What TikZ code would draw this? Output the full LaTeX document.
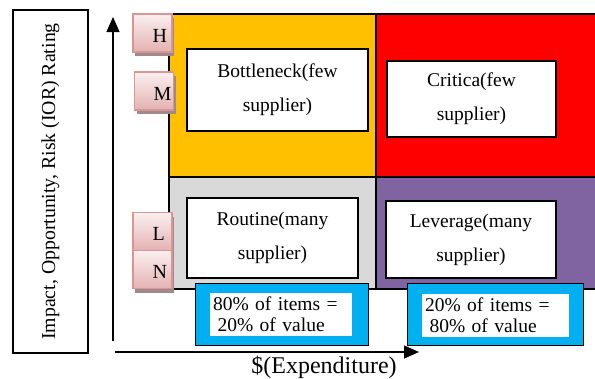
\documentclass[tikz,border=0pt]{standalone}
\usepackage{fontspec}
\setmainfont{Liberation Serif}
\usetikzlibrary{arrows.meta,shadows}

\definecolor{qyellow}{HTML}{FFC000}
\definecolor{qred}{HTML}{FF0000}
\definecolor{qgray}{HTML}{D9D9D9}
\definecolor{qpurple}{HTML}{8064A2}
\definecolor{qblue}{HTML}{00B0F0}
\definecolor{ratetop}{HTML}{FBEFEF}
\definecolor{ratebot}{HTML}{E3B2B1}
\definecolor{rateline}{HTML}{D99694}
\definecolor{rateshadow}{HTML}{9E8A8A}

\begin{document}
\begin{tikzpicture}[x=1pt, y=-1pt,
		quad/.style = {draw=black, line width=1.5pt, inner sep=0pt, outer sep=0pt},
		tbox/.style = {draw=black, line width=1.2pt, fill=white, align=center,
			font=\fontsize{19.5}{34}\selectfont},
		rating/.style = {draw=rateline, line width=1.5pt, top color=ratetop, bottom color=ratebot,
			minimum width=39pt, minimum height=38pt,
			drop shadow={shadow xshift=2pt, shadow yshift=-4pt, fill=rateshadow, opacity=1}},
		ratelet/.style = {anchor=base west, inner sep=0pt, font=\fontsize{20}{20}\selectfont},
		share/.style = {draw=black, line width=1pt, fill=qblue, minimum width=173pt, minimum height=62pt},
		sharetxt/.style = {fill=white, minimum height=43pt, text width=136pt, inner xsep=3pt,
			align=left, font=\fontsize{19.5}{21}\selectfont},
		axis/.style = {line width=1.2pt, -{Triangle[length=15pt, width=13pt]}}]
			\useasboundingbox (0,0) rectangle (595,378);

			% four quadrants
			\node[quad, fill=qyellow, minimum width=207pt, minimum height=163pt] (Q1) at (272.5,95.5) {};
			\node[quad, fill=qred, minimum width=221pt, minimum height=163pt] (Q2) at (486.5,95.5) {};
			\node[quad, fill=qgray, minimum width=207pt, minimum height=112pt] (Q3) at (272.5,233) {};
			\node[quad, fill=qpurple, minimum width=221pt, minimum height=112pt] (Q4) at (486.5,233) {};

			\node[tbox, minimum width=181pt, minimum height=82pt] (T1) at (277.5,90) {Bottleneck(few\\supplier)};
			\node[tbox, minimum width=169pt, minimum height=76pt] (T2) at (471.5,99) {Critica(few\\supplier)};
			\node[tbox, minimum width=171pt, minimum height=80pt] (T3) at (272.5,238) {Routine(many\\supplier)};
			\node[tbox, minimum width=170pt, minimum height=77pt] (T4) at (471,239.5) {Leverage(many\\supplier)};

			% ratings
			\node[rating] (RH) at (152.5,33) {};
			\node[rating] (RM) at (154,91) {};
			\node[rating] (RL) at (152.5,231.5) {};
			\node[rating] (RN) at (152.5,269.5) {};
			\node[ratelet] (LH) at (152.5,42) {H};
			\node[ratelet] (LM) at (153.5,100) {M};
			\node[ratelet] (LL) at (152.5,240) {L};
			\node[ratelet] (LN) at (152.5,278) {N};

			% shares
			\node[share] (S1) at (281.5,314.5) {};
			\node[share, minimum width=176pt] (S2) at (495,314.5) {};
			\node[sharetxt] (P1) at (281,314.5) {80\% of items =\\\hspace*{4.5pt}20\% of value};
			\node[sharetxt, text width=141pt] (P2) at (495.5,315) {20\% of items =\\\hspace*{4.5pt}80\% of value};

			% axes
			\coordinate (Y0) at (113,341);
			\coordinate (Y1) at (113,17);
			\coordinate (X0) at (115,352);
			\coordinate (X1) at (419,352);
			\draw[axis] (Y0) -- (Y1);
			\draw[axis] (X0) -- (X1);

			\node[draw=black, line width=1.2pt, rotate=90, minimum width=343pt, minimum height=75pt,
				font=\fontsize{19.8}{20}\selectfont] (YL) at (50.5,181.5) {Impact, Opportunity, Risk (IOR) Rating};
			\node[anchor=base, inner sep=0pt, font=\fontsize{24}{24}\selectfont] (XL) at (324,373) {\$(Expenditure)};

		\end{tikzpicture}
\end{document}
